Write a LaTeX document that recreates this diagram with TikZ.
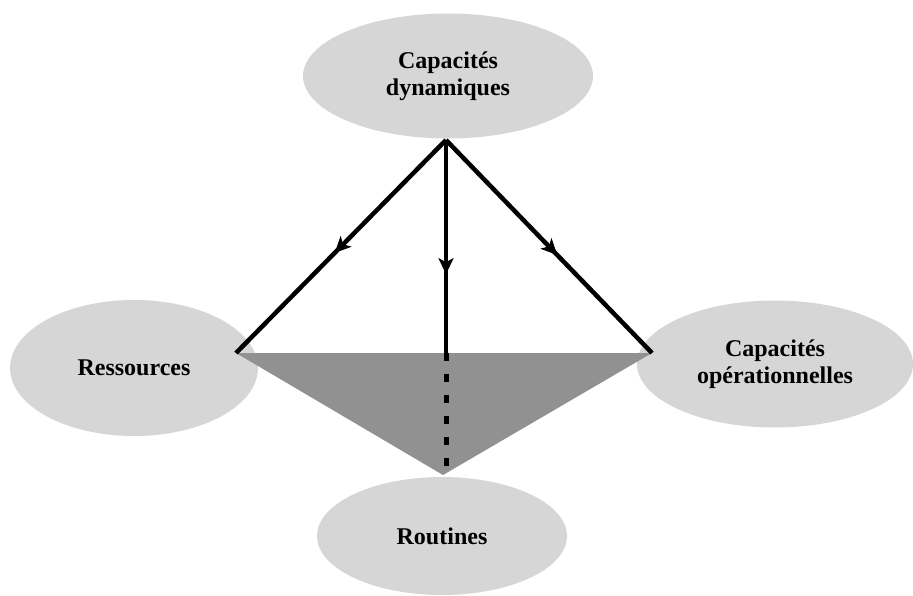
\documentclass[tikz,border=0pt]{standalone}
\usepackage{fontspec}
\setmainfont{Liberation Serif}
\usetikzlibrary{shapes.geometric, arrows.meta, decorations.markings}
\tikzset{
  bubble/.style={ellipse, fill=black!16, draw=none, inner sep=0pt,
    text centered, align=center,
    font=\bfseries\fontsize{24}{27}\selectfont},
  link/.style={line width=4.5pt, postaction={decorate},
    decoration={markings, mark=at position #1 with
      {\arrow{Stealth[length=16pt, width=15pt, inset=4pt]}}}},
  link/.default=0.5,
  hidden/.style={line width=5pt, dash pattern=on 8pt off 13pt},
  wedge/.style={fill=black!43},
}

\begin{document}
\begin{tikzpicture}[x=1pt, y=-1pt]

  \useasboundingbox (0,0) rectangle (913,596);
  \clip (0,0) rectangle (913,596);

  % Ellipses
  \node[bubble, minimum width=290pt, minimum height=125pt] (dyn) at (448,76)
    {Capacités\\dynamiques};
  \node[bubble, minimum width=248pt, minimum height=136pt] (res) at (134,368)
    {Ressources};
  \node[bubble, minimum width=276pt, minimum height=127pt] (ops) at (775,364)
    {Capacités\\opérationnelles};
  \node[bubble, minimum width=250pt, minimum height=118pt] (rout) at (442,536)
    {Routines};

  % Corners
  \coordinate (apex) at (446,140);
  \coordinate (lend) at (236,353);
  \coordinate (rend) at (652,353);
  \coordinate (mid)  at (446,353);
  \coordinate (tip)  at (443,475);
  \coordinate (dend) at (446,468);

  % Shaded triangle
  \fill[wedge] (lend) -- (rend) -- (tip) -- cycle;

  % Arrows
  \draw[link=0.53] (apex) -- (lend);
  \draw[link=0.54] (apex) -- (rend);
  \draw[link=0.63] (apex) -- (mid);
  \draw[hidden] (mid) -- (dend);

\end{tikzpicture}
\end{document}
